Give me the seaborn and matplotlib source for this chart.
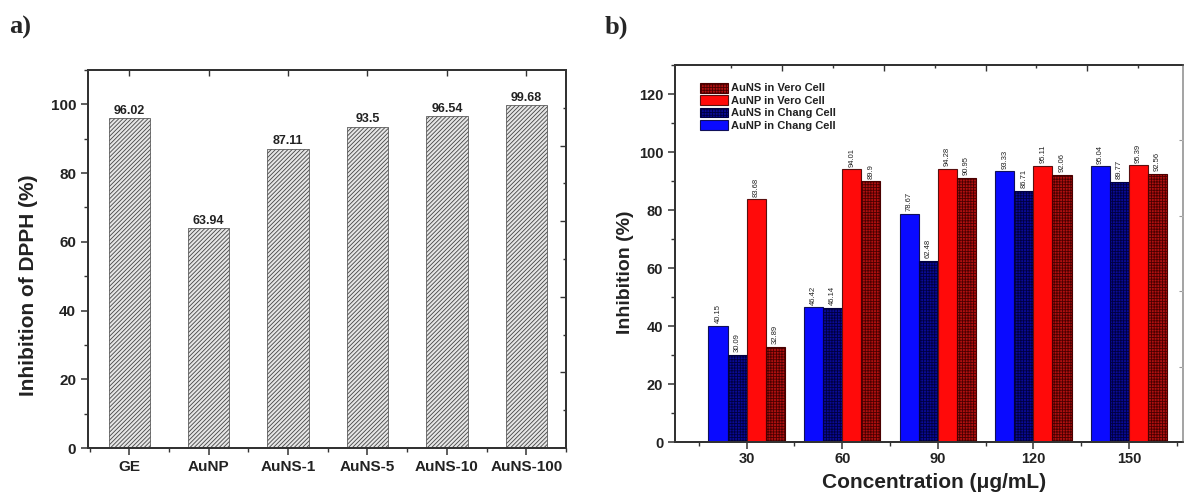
import matplotlib
matplotlib.use('Agg')
import matplotlib.pyplot as plt
import matplotlib.ticker as mticker
from matplotlib.patches import Patch
import seaborn as sns
import pandas as pd

# panel a: DPPH scavenging
dpph_samples = ['GE', 'AuNP', 'AuNS-1', 'AuNS-5', 'AuNS-10', 'AuNS-100']
dpph_inhibition = [96.02, 63.94, 87.11, 93.5, 96.54, 99.68]

# panel b: inhibition in cell lines
concentrations = [30, 60, 90, 120, 150]
aunp_chang = [40.15, 46.42, 78.67, 93.33, 95.04]
auns_chang = [30.09, 46.14, 62.48, 86.71, 89.77]
aunp_vero = [83.68, 94.01, 94.28, 95.11, 95.39]
auns_vero = [32.89, 89.9, 90.95, 92.06, 92.56]
series_names = ['AuNP in Chang Cell', 'AuNS in Chang Cell', 'AuNP in Vero Cell', 'AuNS in Vero Cell']

sns.set_theme(style='ticks')
plt.rcParams['font.family'] = ['Liberation Sans', 'DejaVu Sans']
plt.rcParams['hatch.linewidth'] = 0.6
plt.rcParams['axes.linewidth'] = 1.2
plt.rcParams['axes.edgecolor'] = '#333333'

fig = plt.figure(figsize=(11.85, 4.97), dpi=100)
W, H = 1185, 497
ax1 = fig.add_axes([88 / W, 1 - 448 / H, (566 - 88) / W, (448 - 70) / H])
ax2 = fig.add_axes([675 / W, 1 - 442 / H, (1183 - 675) / W, (442 - 65) / H])

# ---------- panel a ----------
sns.barplot(x=dpph_samples, y=dpph_inhibition, color='#e6e6e6', saturation=1,
            width=0.52, edgecolor='#444444', linewidth=0.5, errorbar=None, ax=ax1)
for bar in ax1.patches:
    bar.set_hatch('////////')
ax1.bar_label(ax1.containers[0], labels=[f'{v:g}' for v in dpph_inhibition],
              fontsize=9, fontweight='bold', color='#222222', padding=1)
ax1.set_xlim(-0.52, 5.5)
ax1.set_ylim(0, 110)
ax1.yaxis.set_major_locator(mticker.MultipleLocator(20))
ax1.yaxis.set_minor_locator(mticker.MultipleLocator(10))
ax1.xaxis.set_minor_locator(mticker.FixedLocator([i + 0.5 for i in range(-1, 6)]))
ax1.tick_params(which='major', direction='out', length=5, width=1.1, color='#333333')
ax1.tick_params(which='minor', direction='out', length=3, width=1.0, color='#333333')
for lab in ax1.get_xticklabels() + ax1.get_yticklabels():
    lab.set_fontsize(11)
    lab.set_fontweight('bold')
    lab.set_color('#222222')
ax1.set_ylabel('Inhibition of DPPH (%)', fontsize=15, fontweight='bold', color='#222222')
ax1.yaxis.set_label_coords(-0.105, 0.43)
ax1.set_xlabel('')

top1 = ax1.twiny()
top1.set_xlim(ax1.get_xlim())
top1.set_xticks(range(len(dpph_samples)))
top1.tick_params(direction='in', length=4, width=1.0, labeltop=False, color='#333333')
right1 = ax1.twinx()
right1.set_ylim(0, 110)
right1.yaxis.set_major_locator(mticker.FixedLocator([22, 44, 66, 88]))
right1.yaxis.set_minor_locator(mticker.FixedLocator([11, 33, 55, 77, 99]))
right1.tick_params(which='major', direction='in', length=4, width=1.0, labelright=False, color='#333333')
right1.tick_params(which='minor', direction='in', length=2.5, width=1.0, color='#333333')

# ---------- panel b ----------
df_b = pd.DataFrame({
    'Concentration': concentrations * 4,
    'Inhibition': aunp_chang + auns_chang + aunp_vero + auns_vero,
    'Series': [s for s in series_names for _ in concentrations],
})
face_colors = {'AuNP in Chang Cell': '#0a0aff', 'AuNS in Chang Cell': '#0a0a96',
               'AuNP in Vero Cell': '#ff0a0a', 'AuNS in Vero Cell': '#b01010'}
edge_colors = {'AuNP in Chang Cell': '#10105a', 'AuNS in Chang Cell': '#000040',
               'AuNP in Vero Cell': '#5a1010', 'AuNS in Vero Cell': '#4a0000'}
hatches = {'AuNP in Chang Cell': '', 'AuNS in Chang Cell': '++++++',
           'AuNP in Vero Cell': '', 'AuNS in Vero Cell': '++++++'}

sns.barplot(data=df_b, x='Concentration', y='Inhibition', hue='Series',
            hue_order=series_names, palette=face_colors, native_scale=True,
            width=0.8, saturation=1, errorbar=None, legend=False, ax=ax2)
for name, cont in zip(series_names, ax2.containers):
    for bar in cont:
        bar.set_edgecolor(edge_colors[name])
        bar.set_linewidth(0.8)
        bar.set_hatch(hatches[name])
    vals = df_b.loc[df_b['Series'] == name, 'Inhibition']
    ax2.bar_label(cont, labels=[f'{v:g}' for v in vals], rotation=90,
                  fontsize=5.5, color='#222222', padding=2)

ax2.set_xlim(7.5, 167)
ax2.set_ylim(0, 130)
ax2.set_xticks(concentrations)
ax2.xaxis.set_minor_locator(mticker.FixedLocator([15, 45, 75, 105, 135, 165]))
ax2.yaxis.set_major_locator(mticker.MultipleLocator(20))
ax2.yaxis.set_minor_locator(mticker.MultipleLocator(10))
ax2.tick_params(which='major', direction='out', length=5, width=1.1, color='#333333')
ax2.tick_params(which='minor', direction='out', length=3, width=1.0, color='#333333')
ax2.tick_params(axis='x', which='major', pad=2)
ax2.set_xticklabels([str(c) for c in concentrations])
for lab in ax2.get_xticklabels() + ax2.get_yticklabels():
    lab.set_fontsize(10.5)
    lab.set_fontweight('bold')
    lab.set_color('#222222')
ax2.set_ylabel('Inhibition (%)', fontsize=14, fontweight='bold', color='#222222')
ax2.yaxis.set_label_coords(-0.08, 0.45)
ax2.set_xlabel('Concentration (μg/mL)', fontsize=15, fontweight='bold', color='#222222')
ax2.xaxis.set_label_coords(0.51, -0.083)

top2 = ax2.twiny()
top2.set_xlim(ax2.get_xlim())
top2.xaxis.set_major_locator(mticker.FixedLocator([41, 73, 105, 137]))
top2.xaxis.set_minor_locator(mticker.FixedLocator([25, 57, 89, 121, 153]))
top2.tick_params(which='major', direction='in', length=4, width=1.0, labeltop=False, color='#333333')
top2.tick_params(which='minor', direction='in', length=2.5, width=1.0, color='#333333')
right2 = ax2.twinx()
right2.set_ylim(0, 130)
right2.yaxis.set_major_locator(mticker.FixedLocator([26, 52, 78, 104]))
right2.tick_params(direction='in', length=3, width=0.8, labelright=False, color='#999999')
right2.spines['right'].set_color('#bbbbbb')

handles = [Patch(facecolor=face_colors[n], edgecolor=edge_colors[n], hatch=hatches[n],
                 linewidth=0.8, label=n) for n in reversed(series_names)]
leg = ax2.legend(handles=handles, loc='upper left', bbox_to_anchor=(0.04, 0.965),
                 frameon=False, fontsize=8, handlelength=2.5, handleheight=1.0,
                 labelspacing=0.15, handletextpad=0.3, borderaxespad=0)
for t in leg.get_texts():
    t.set_fontweight('bold')
    t.set_color('#222222')

fig.text(9 / W, 1 - 27 / H, 'a)', fontsize=19, fontweight='bold',
         family='Liberation Serif', va='center')
fig.text(605 / W, 1 - 27 / H, 'b)', fontsize=19, fontweight='bold',
         family='Liberation Serif', va='center')

fig.savefig('out.png', dpi=100)
